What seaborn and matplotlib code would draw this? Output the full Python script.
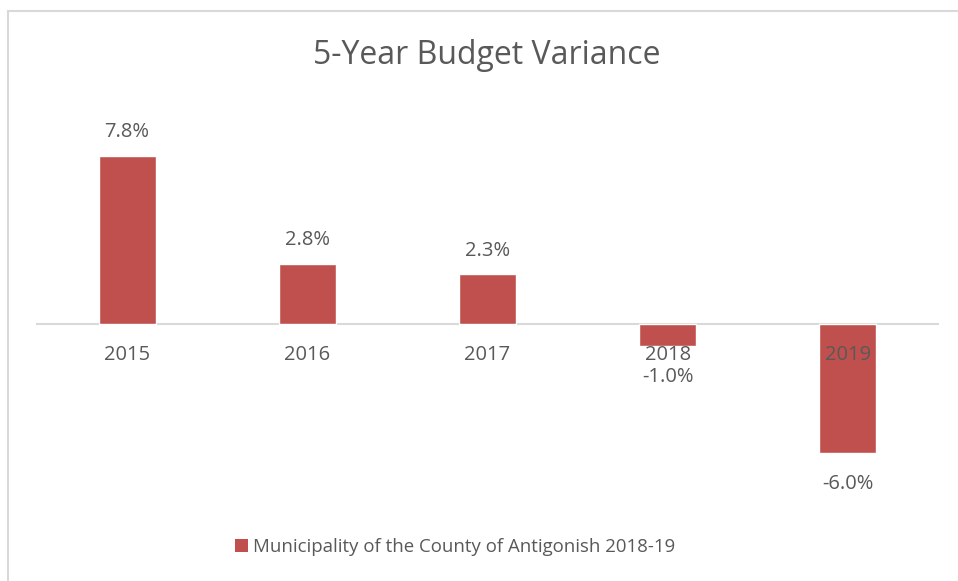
import matplotlib
matplotlib.use("Agg")
import matplotlib.pyplot as plt
from matplotlib.patches import Patch
import seaborn as sns
import pandas as pd

years = ["2015", "2016", "2017", "2018", "2019"]
variance = [7.8, 2.8, 2.3, -1.0, -6.0]
series_name = "Municipality of the County of Antigonish 2018-19"
title = "5-Year Budget Variance"

BAR = "#C0504D"
TXT = "#595959"
GRID = "#D9D9D9"

sns.set_theme(style="white")
plt.rcParams["font.family"] = ["Open Sans", "DejaVu Sans"]

W, H = 958, 581
fig = plt.figure(figsize=(W / 100, H / 100), dpi=100)

# plot area in pixel terms: x 37..938, zero line at y=324, 21.54 px per percent
px_per = 21.54
top_px, bot_px = 100, 500
ax = fig.add_axes([37 / W, 1 - bot_px / H, (938 - 37) / W, (bot_px - top_px) / H])

df = pd.DataFrame({"year": years, "variance": variance})
sns.barplot(data=df, x="year", y="variance", color=BAR, saturation=1,
            width=0.316, ax=ax, zorder=1)

ax.set_ylim(-(bot_px - 324) / px_per, (324 - top_px) / px_per)
ax.set_xlim(-0.5, len(years) - 0.5)

for s in ["top", "right", "left"]:
    ax.spines[s].set_visible(False)
ax.spines["bottom"].set_position(("data", 0))
ax.spines["bottom"].set_color(GRID)
ax.spines["bottom"].set_linewidth(1.5)
ax.spines["bottom"].set_zorder(0.5)
ax.set_yticks([])
ax.set_xticks(range(len(years)))
ax.set_xticklabels([])
ax.tick_params(axis="x", length=0)
ax.set_xlabel("")
ax.set_ylabel("")

# category labels sit just under the zero line, on top of any bar
for i, yr in enumerate(years):
    ax.annotate(yr, xy=(i, 0), xytext=(0, -22.5), textcoords="offset points",
                ha="center", va="center", fontsize=14.5, color=TXT, zorder=5)

# value labels outside the bar ends
for i, v in enumerate(variance):
    off = 17 if v >= 0 else -22.5
    ax.annotate(f"{v:.1f}%", xy=(i, v), xytext=(0, off), textcoords="offset points",
                ha="center", va="center", fontsize=14.5, color=TXT, zorder=5)

fig.text(486.5 / W, 1 - 55 / H, title, ha="center", va="center",
         fontsize=23, color=TXT)

# legend
fig.legend(handles=[Patch(facecolor=BAR, edgecolor="none", label=series_name)],
           loc="center", bbox_to_anchor=(455 / W, 1 - 547 / H), frameon=False,
           fontsize=13.4, labelcolor=TXT, handlelength=0.7, handleheight=0.7,
           handletextpad=0.3)

# outer chart border (top and left edges visible)
fig.add_artist(plt.Line2D([7.5 / W, 7.5 / W], [0, 1 - 10.5 / H], color=GRID,
                          lw=1.5, transform=fig.transFigure))
fig.add_artist(plt.Line2D([7.5 / W, 1], [1 - 10.5 / H, 1 - 10.5 / H], color=GRID,
                          lw=1.5, transform=fig.transFigure))

fig.savefig("out.png", dpi=100)
